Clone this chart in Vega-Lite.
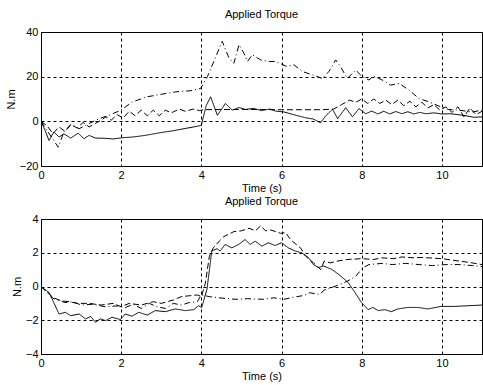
{
  "$schema": "https://vega.github.io/schema/vega-lite/v6.json",
  "padding": {"left": 4, "top": 8, "right": 0, "bottom": 0},
  "spacing": 1,
  "background": "white",
  "datasets": {
    "top": [
      {"t":0,"v":0,"s":"solid"},{"t":0.1,"v":-4,"s":"solid"},{"t":0.2,"v":-8.6,"s":"solid"},{"t":0.32,"v":-4.8,"s":"solid"},{"t":0.45,"v":-7,"s":"solid"},{"t":0.57,"v":-5.6,"s":"solid"},{"t":0.74,"v":-7.5,"s":"solid"},{"t":0.93,"v":-5.3,"s":"solid"},{"t":1.07,"v":-7.8,"s":"solid"},{"t":1.2,"v":-6.3,"s":"solid"},{"t":1.36,"v":-7.5,"s":"solid"},{"t":1.6,"v":-7.6,"s":"solid"},{"t":1.8,"v":-7.9,"s":"solid"},{"t":2.0,"v":-7.4,"s":"solid"},{"t":2.3,"v":-7.0,"s":"solid"},{"t":2.6,"v":-6.3,"s":"solid"},{"t":3.0,"v":-5.0,"s":"solid"},{"t":3.3,"v":-4.2,"s":"solid"},{"t":3.6,"v":-3.2,"s":"solid"},{"t":3.9,"v":-2.2,"s":"solid"},{"t":4.0,"v":-1.8,"s":"solid"},{"t":4.05,"v":2,"s":"solid"},{"t":4.12,"v":7,"s":"solid"},{"t":4.23,"v":11,"s":"solid"},{"t":4.4,"v":2.7,"s":"solid"},{"t":4.6,"v":8,"s":"solid"},{"t":4.77,"v":5,"s":"solid"},{"t":4.94,"v":6.2,"s":"solid"},{"t":5.1,"v":5.3,"s":"solid"},{"t":5.3,"v":5.8,"s":"solid"},{"t":5.5,"v":4.8,"s":"solid"},{"t":5.7,"v":5.5,"s":"solid"},{"t":5.85,"v":4.6,"s":"solid"},{"t":6.06,"v":4.2,"s":"solid"},{"t":6.3,"v":3.0,"s":"solid"},{"t":6.6,"v":1.6,"s":"solid"},{"t":6.8,"v":1.0,"s":"solid"},{"t":6.97,"v":-0.7,"s":"solid"},{"t":7.1,"v":2.4,"s":"solid"},{"t":7.27,"v":5.4,"s":"solid"},{"t":7.4,"v":1.2,"s":"solid"},{"t":7.6,"v":6.1,"s":"solid"},{"t":7.77,"v":2.0,"s":"solid"},{"t":7.93,"v":5.7,"s":"solid"},{"t":8.1,"v":3.4,"s":"solid"},{"t":8.25,"v":4.6,"s":"solid"},{"t":8.4,"v":3.3,"s":"solid"},{"t":8.55,"v":4.5,"s":"solid"},{"t":8.7,"v":3.3,"s":"solid"},{"t":8.85,"v":4.4,"s":"solid"},{"t":9.0,"v":3.4,"s":"solid"},{"t":9.15,"v":4.3,"s":"solid"},{"t":9.3,"v":3.3,"s":"solid"},{"t":9.45,"v":4.0,"s":"solid"},{"t":9.6,"v":3.4,"s":"solid"},{"t":9.8,"v":3.8,"s":"solid"},{"t":10.0,"v":3.3,"s":"solid"},{"t":10.2,"v":3.4,"s":"solid"},{"t":10.4,"v":3.0,"s":"solid"},{"t":10.6,"v":2.5,"s":"solid"},{"t":10.8,"v":1.8,"s":"solid"},{"t":11.0,"v":2.0,"s":"solid"},

      {"t":0,"v":0,"s":"dashed"},{"t":0.15,"v":-2,"s":"dashed"},{"t":0.3,"v":-5.5,"s":"dashed"},{"t":0.45,"v":-2.5,"s":"dashed"},{"t":0.6,"v":-4.5,"s":"dashed"},{"t":0.75,"v":-1.5,"s":"dashed"},{"t":0.9,"v":-3,"s":"dashed"},{"t":1.05,"v":-0.5,"s":"dashed"},{"t":1.2,"v":-2.5,"s":"dashed"},{"t":1.35,"v":-1,"s":"dashed"},{"t":1.5,"v":0.5,"s":"dashed"},{"t":1.62,"v":2,"s":"dashed"},{"t":1.75,"v":0.5,"s":"dashed"},{"t":1.9,"v":3,"s":"dashed"},{"t":2.05,"v":1.5,"s":"dashed"},{"t":2.2,"v":4.5,"s":"dashed"},{"t":2.35,"v":2.5,"s":"dashed"},{"t":2.5,"v":5,"s":"dashed"},{"t":2.65,"v":2.5,"s":"dashed"},{"t":2.8,"v":5,"s":"dashed"},{"t":2.95,"v":2.5,"s":"dashed"},{"t":3.1,"v":5,"s":"dashed"},{"t":3.25,"v":3.8,"s":"dashed"},{"t":3.45,"v":5.5,"s":"dashed"},{"t":3.6,"v":4.5,"s":"dashed"},{"t":3.8,"v":5.5,"s":"dashed"},{"t":3.95,"v":4.8,"s":"dashed"},{"t":4.05,"v":5.2,"s":"dashed"},{"t":4.5,"v":5.3,"s":"dashed"},{"t":5.0,"v":5.3,"s":"dashed"},{"t":5.5,"v":5.3,"s":"dashed"},{"t":6.0,"v":5.2,"s":"dashed"},{"t":6.5,"v":5.2,"s":"dashed"},{"t":7.0,"v":5.2,"s":"dashed"},{"t":7.3,"v":5.5,"s":"dashed"},{"t":7.5,"v":7.5,"s":"dashed"},{"t":7.7,"v":9.5,"s":"dashed"},{"t":7.85,"v":8.5,"s":"dashed"},{"t":8.0,"v":10,"s":"dashed"},{"t":8.15,"v":8,"s":"dashed"},{"t":8.3,"v":10,"s":"dashed"},{"t":8.45,"v":8,"s":"dashed"},{"t":8.6,"v":9.5,"s":"dashed"},{"t":8.75,"v":7.5,"s":"dashed"},{"t":8.9,"v":9.5,"s":"dashed"},{"t":9.05,"v":7,"s":"dashed"},{"t":9.2,"v":9,"s":"dashed"},{"t":9.35,"v":6.5,"s":"dashed"},{"t":9.5,"v":8.5,"s":"dashed"},{"t":9.65,"v":6,"s":"dashed"},{"t":9.8,"v":7.5,"s":"dashed"},{"t":9.95,"v":5,"s":"dashed"},{"t":10.1,"v":6.5,"s":"dashed"},{"t":10.25,"v":4,"s":"dashed"},{"t":10.4,"v":6.5,"s":"dashed"},{"t":10.55,"v":2,"s":"dashed"},{"t":10.7,"v":6,"s":"dashed"},{"t":10.85,"v":3,"s":"dashed"},{"t":11.0,"v":4.5,"s":"dashed"},

      {"t":0,"v":0,"s":"dashdot"},{"t":0.43,"v":-11.6,"s":"dashdot"},{"t":0.57,"v":-4.8,"s":"dashdot"},{"t":0.74,"v":-1.4,"s":"dashdot"},{"t":0.95,"v":-3.3,"s":"dashdot"},{"t":1.2,"v":-1,"s":"dashdot"},{"t":1.45,"v":1.2,"s":"dashdot"},{"t":1.7,"v":2.7,"s":"dashdot"},{"t":1.99,"v":5,"s":"dashdot"},{"t":2.28,"v":8.7,"s":"dashdot"},{"t":2.65,"v":11,"s":"dashdot"},{"t":3.03,"v":12.2,"s":"dashdot"},{"t":3.36,"v":13.2,"s":"dashdot"},{"t":3.73,"v":13.7,"s":"dashdot"},{"t":3.98,"v":14.7,"s":"dashdot"},{"t":4.15,"v":20,"s":"dashdot"},{"t":4.31,"v":26.8,"s":"dashdot"},{"t":4.52,"v":35.8,"s":"dashdot"},{"t":4.69,"v":28.3,"s":"dashdot"},{"t":4.81,"v":26,"s":"dashdot"},{"t":4.94,"v":34.3,"s":"dashdot"},{"t":5.06,"v":30.5,"s":"dashdot"},{"t":5.15,"v":26.8,"s":"dashdot"},{"t":5.27,"v":29.8,"s":"dashdot"},{"t":5.48,"v":27.5,"s":"dashdot"},{"t":5.69,"v":26.8,"s":"dashdot"},{"t":5.85,"v":26.8,"s":"dashdot"},{"t":6.14,"v":24.5,"s":"dashdot"},{"t":6.31,"v":25.3,"s":"dashdot"},{"t":6.52,"v":22.3,"s":"dashdot"},{"t":6.77,"v":20.8,"s":"dashdot"},{"t":7.02,"v":19.2,"s":"dashdot"},{"t":7.18,"v":22.3,"s":"dashdot"},{"t":7.35,"v":27.5,"s":"dashdot"},{"t":7.47,"v":24.5,"s":"dashdot"},{"t":7.64,"v":19.2,"s":"dashdot"},{"t":7.85,"v":23,"s":"dashdot"},{"t":8.01,"v":20,"s":"dashdot"},{"t":8.18,"v":18.5,"s":"dashdot"},{"t":8.3,"v":20.3,"s":"dashdot"},{"t":8.51,"v":18.5,"s":"dashdot"},{"t":8.72,"v":16.2,"s":"dashdot"},{"t":8.93,"v":17,"s":"dashdot"},{"t":9.18,"v":14,"s":"dashdot"},{"t":9.43,"v":10.2,"s":"dashdot"},{"t":9.68,"v":8.7,"s":"dashdot"},{"t":9.93,"v":6.8,"s":"dashdot"},{"t":10.17,"v":5.3,"s":"dashdot"},{"t":10.42,"v":5,"s":"dashdot"},{"t":10.76,"v":4.2,"s":"dashdot"},{"t":11.0,"v":5,"s":"dashdot"}
    ],
    "bottom": [
      {"t":0,"v":0,"s":"solid"},{"t":0.2,"v":-0.35,"s":"solid"},{"t":0.45,"v":-1.63,"s":"solid"},{"t":0.61,"v":-1.53,"s":"solid"},{"t":0.74,"v":-1.73,"s":"solid"},{"t":0.95,"v":-1.63,"s":"solid"},{"t":1.11,"v":-1.92,"s":"solid"},{"t":1.24,"v":-1.78,"s":"solid"},{"t":1.36,"v":-2.12,"s":"solid"},{"t":1.48,"v":-1.92,"s":"solid"},{"t":1.61,"v":-2.02,"s":"solid"},{"t":1.77,"v":-1.82,"s":"solid"},{"t":1.98,"v":-1.96,"s":"solid"},{"t":2.1,"v":-1.63,"s":"solid"},{"t":2.27,"v":-1.76,"s":"solid"},{"t":2.44,"v":-1.53,"s":"solid"},{"t":2.65,"v":-1.69,"s":"solid"},{"t":2.85,"v":-1.43,"s":"solid"},{"t":3.1,"v":-1.49,"s":"solid"},{"t":3.35,"v":-1.33,"s":"solid"},{"t":3.6,"v":-1.43,"s":"solid"},{"t":3.81,"v":-1.37,"s":"solid"},{"t":3.93,"v":-1.14,"s":"solid"},{"t":4.01,"v":-1.24,"s":"solid"},{"t":4.14,"v":-0.16,"s":"solid"},{"t":4.26,"v":2.1,"s":"solid"},{"t":4.39,"v":2.24,"s":"solid"},{"t":4.47,"v":2.1,"s":"solid"},{"t":4.59,"v":2.49,"s":"solid"},{"t":4.76,"v":2.29,"s":"solid"},{"t":4.93,"v":2.49,"s":"solid"},{"t":5.09,"v":2.78,"s":"solid"},{"t":5.22,"v":2.49,"s":"solid"},{"t":5.34,"v":2.69,"s":"solid"},{"t":5.51,"v":2.39,"s":"solid"},{"t":5.67,"v":2.59,"s":"solid"},{"t":5.84,"v":2.43,"s":"solid"},{"t":6.0,"v":2.59,"s":"solid"},{"t":6.17,"v":2.29,"s":"solid"},{"t":6.34,"v":2.1,"s":"solid"},{"t":6.5,"v":2.0,"s":"solid"},{"t":6.67,"v":1.71,"s":"solid"},{"t":6.79,"v":1.31,"s":"solid"},{"t":6.92,"v":1.12,"s":"solid"},{"t":7.04,"v":1.22,"s":"solid"},{"t":7.25,"v":1.02,"s":"solid"},{"t":7.45,"v":0.67,"s":"solid"},{"t":7.66,"v":0.24,"s":"solid"},{"t":7.83,"v":-0.35,"s":"solid"},{"t":7.99,"v":-0.94,"s":"solid"},{"t":8.16,"v":-1.37,"s":"solid"},{"t":8.28,"v":-1.24,"s":"solid"},{"t":8.41,"v":-1.43,"s":"solid"},{"t":8.57,"v":-1.37,"s":"solid"},{"t":8.74,"v":-1.49,"s":"solid"},{"t":8.9,"v":-1.33,"s":"solid"},{"t":9.15,"v":-1.24,"s":"solid"},{"t":9.4,"v":-1.24,"s":"solid"},{"t":9.65,"v":-1.33,"s":"solid"},{"t":9.98,"v":-1.18,"s":"solid"},{"t":10.32,"v":-1.18,"s":"solid"},{"t":10.65,"v":-1.14,"s":"solid"},{"t":11.0,"v":-1.1,"s":"solid"},

      {"t":0,"v":0,"s":"dashed"},{"t":0.3,"v":-0.65,"s":"dashed"},{"t":0.5,"v":-0.85,"s":"dashed"},{"t":0.7,"v":-0.9,"s":"dashed"},{"t":0.9,"v":-1.0,"s":"dashed"},{"t":1.2,"v":-1.0,"s":"dashed"},{"t":1.5,"v":-1.1,"s":"dashed"},{"t":1.8,"v":-1.0,"s":"dashed"},{"t":2.0,"v":-1.2,"s":"dashed"},{"t":2.2,"v":-1.0,"s":"dashed"},{"t":2.5,"v":-1.1,"s":"dashed"},{"t":2.8,"v":-0.9,"s":"dashed"},{"t":3.0,"v":-1.0,"s":"dashed"},{"t":3.3,"v":-0.8,"s":"dashed"},{"t":3.5,"v":-0.6,"s":"dashed"},{"t":3.7,"v":-0.55,"s":"dashed"},{"t":3.9,"v":-0.5,"s":"dashed"},{"t":4.0,"v":-0.6,"s":"dashed"},{"t":4.1,"v":0.2,"s":"dashed"},{"t":4.2,"v":1.8,"s":"dashed"},{"t":4.3,"v":2.3,"s":"dashed"},{"t":4.45,"v":2.7,"s":"dashed"},{"t":4.56,"v":2.96,"s":"dashed"},{"t":4.81,"v":3.25,"s":"dashed"},{"t":5.0,"v":3.3,"s":"dashed"},{"t":5.19,"v":3.45,"s":"dashed"},{"t":5.35,"v":3.3,"s":"dashed"},{"t":5.48,"v":3.6,"s":"dashed"},{"t":5.6,"v":3.3,"s":"dashed"},{"t":5.73,"v":3.35,"s":"dashed"},{"t":5.98,"v":3.15,"s":"dashed"},{"t":6.1,"v":3.2,"s":"dashed"},{"t":6.23,"v":2.76,"s":"dashed"},{"t":6.48,"v":2.27,"s":"dashed"},{"t":6.6,"v":1.8,"s":"dashed"},{"t":6.8,"v":1.4,"s":"dashed"},{"t":6.98,"v":1.0,"s":"dashed"},{"t":7.06,"v":1.5,"s":"dashed"},{"t":7.22,"v":1.4,"s":"dashed"},{"t":7.38,"v":1.5,"s":"dashed"},{"t":7.63,"v":1.6,"s":"dashed"},{"t":8.0,"v":1.65,"s":"dashed"},{"t":8.3,"v":1.6,"s":"dashed"},{"t":8.5,"v":1.7,"s":"dashed"},{"t":8.8,"v":1.65,"s":"dashed"},{"t":9.0,"v":1.75,"s":"dashed"},{"t":9.3,"v":1.7,"s":"dashed"},{"t":9.5,"v":1.72,"s":"dashed"},{"t":10.0,"v":1.65,"s":"dashed"},{"t":10.3,"v":1.55,"s":"dashed"},{"t":10.7,"v":1.42,"s":"dashed"},{"t":11.0,"v":1.3,"s":"dashed"},

      {"t":0,"v":0,"s":"dashdot"},{"t":0.3,"v":-0.7,"s":"dashdot"},{"t":0.6,"v":-0.95,"s":"dashdot"},{"t":0.8,"v":-0.9,"s":"dashdot"},{"t":1.0,"v":-1.1,"s":"dashdot"},{"t":1.3,"v":-1.05,"s":"dashdot"},{"t":1.6,"v":-1.2,"s":"dashdot"},{"t":1.9,"v":-1.15,"s":"dashdot"},{"t":2.1,"v":-1.25,"s":"dashdot"},{"t":2.3,"v":-1.05,"s":"dashdot"},{"t":2.5,"v":-1.3,"s":"dashdot"},{"t":2.7,"v":-1.0,"s":"dashdot"},{"t":2.9,"v":-1.2,"s":"dashdot"},{"t":3.1,"v":-1.3,"s":"dashdot"},{"t":3.3,"v":-1.0,"s":"dashdot"},{"t":3.5,"v":-1.1,"s":"dashdot"},{"t":3.7,"v":-0.95,"s":"dashdot"},{"t":3.9,"v":-0.9,"s":"dashdot"},{"t":4.0,"v":-0.5,"s":"dashdot"},{"t":4.2,"v":-0.6,"s":"dashdot"},{"t":4.44,"v":-0.67,"s":"dashdot"},{"t":4.86,"v":-0.76,"s":"dashdot"},{"t":5.15,"v":-0.72,"s":"dashdot"},{"t":5.56,"v":-0.76,"s":"dashdot"},{"t":5.81,"v":-0.67,"s":"dashdot"},{"t":6.06,"v":-0.76,"s":"dashdot"},{"t":6.31,"v":-0.63,"s":"dashdot"},{"t":6.56,"v":-0.53,"s":"dashdot"},{"t":6.7,"v":-0.37,"s":"dashdot"},{"t":6.95,"v":-0.47,"s":"dashdot"},{"t":7.06,"v":-0.22,"s":"dashdot"},{"t":7.4,"v":0.07,"s":"dashdot"},{"t":7.63,"v":0.3,"s":"dashdot"},{"t":7.85,"v":0.6,"s":"dashdot"},{"t":8.02,"v":1.1,"s":"dashdot"},{"t":8.18,"v":1.3,"s":"dashdot"},{"t":8.51,"v":1.37,"s":"dashdot"},{"t":8.76,"v":1.3,"s":"dashdot"},{"t":9.09,"v":1.37,"s":"dashdot"},{"t":9.43,"v":1.3,"s":"dashdot"},{"t":9.76,"v":1.24,"s":"dashdot"},{"t":10.1,"v":1.3,"s":"dashdot"},{"t":10.43,"v":1.3,"s":"dashdot"},{"t":10.76,"v":1.24,"s":"dashdot"},{"t":11.0,"v":1.18,"s":"dashdot"}
    ]
  },
  "vconcat": [
    {
      "width": 441,
      "height": 134,
      "title": {"text": "Applied Torque", "fontSize": 11, "fontWeight": "normal", "font": "Liberation Sans", "color": "#000", "offset": 6},
      "data": {"name": "top"},
      "mark": {"type": "line", "strokeWidth": 1, "color": "#000", "clip": true},
      "encoding": {
        "x": {"field": "t", "type": "quantitative", "title": "Time (s)", "scale": {"domain": [0, 11], "nice": false, "zero": false}, "axis": {"values": [0, 2, 4, 6, 8, 10]}},
        "y": {"field": "v", "type": "quantitative", "title": "N.m", "scale": {"domain": [-20, 40], "nice": false}, "axis": {"values": [-20, 0, 20, 40]}},
        "strokeDash": {"field": "s", "type": "nominal", "scale": {"domain": ["solid", "dashed", "dashdot"], "range": [[1, 0], [6, 3], [6, 3, 1, 3]]}, "legend": null},
        "detail": {"field": "s"}
      }
    },
    {
      "width": 441,
      "height": 135,
      "title": {"text": "Applied Torque", "fontSize": 11, "fontWeight": "normal", "font": "Liberation Sans", "color": "#000", "offset": 6},
      "data": {"name": "bottom"},
      "mark": {"type": "line", "strokeWidth": 1, "color": "#000", "clip": true},
      "encoding": {
        "x": {"field": "t", "type": "quantitative", "title": "Time (s)", "scale": {"domain": [0, 11], "nice": false, "zero": false}, "axis": {"values": [0, 2, 4, 6, 8, 10]}},
        "y": {"field": "v", "type": "quantitative", "title": "N.m", "scale": {"domain": [-4, 4], "nice": false}, "axis": {"values": [-4, -2, 0, 2, 4]}},
        "strokeDash": {"field": "s", "type": "nominal", "scale": {"domain": ["solid", "dashed", "dashdot"], "range": [[1, 0], [6, 3], [6, 3, 1, 3]]}, "legend": null},
        "detail": {"field": "s"}
      }
    }
  ],
  "config": {
    "font": "Liberation Sans",
    "view": {"stroke": "#000", "strokeWidth": 1},
    "axis": {
      "grid": true, "gridColor": "#000", "gridDash": [3, 3], "gridOpacity": 1, "gridWidth": 1,
      "domain": false, "ticks": false,
      "labelFont": "Liberation Sans", "labelFontSize": 11, "labelColor": "#000", "labelFlush": false, "labelPadding": 3,
      "titleFont": "Liberation Sans", "titleFontSize": 11, "titleFontWeight": "normal", "titleColor": "#000", "titlePadding": 6
    },
    "axisX": {"titlePadding": 2},
    "axisY": {"titlePadding": 3}
  }
}
